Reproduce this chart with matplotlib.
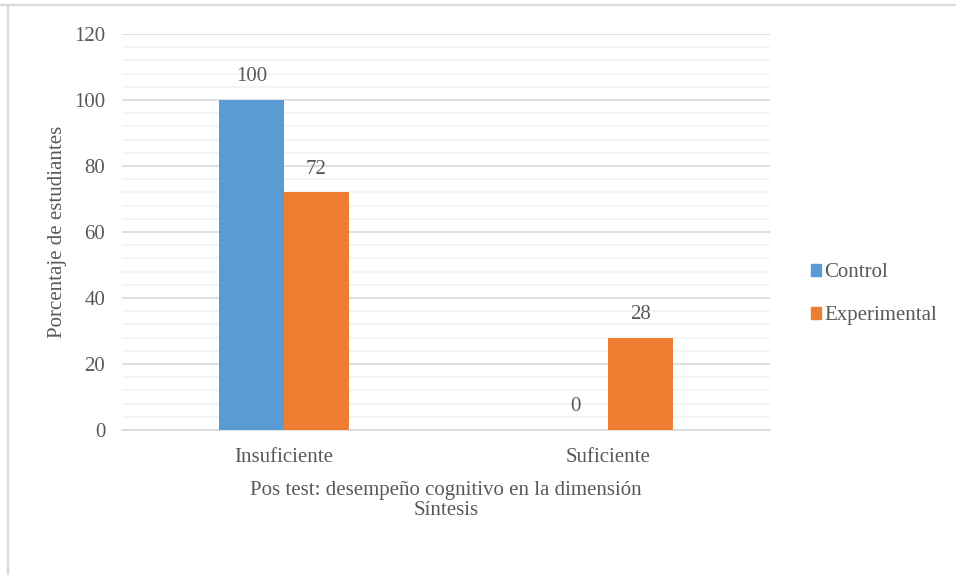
import matplotlib.pyplot as plt
import numpy as np
from matplotlib.patches import Rectangle
from matplotlib.lines import Line2D

# data
categories = ["Insuficiente", "Suficiente"]
series_names = ["Control", "Experimental"]
control = [100, 0]
experimental = [72, 28]
y_ticks = [0, 20, 40, 60, 80, 100, 120]

BLUE = "#5B9BD5"
ORANGE = "#ED7D31"
TEXT = "#595959"
FS = 15

plt.rcParams["font.family"] = ["Liberation Serif", "DejaVu Serif"]

fig = plt.figure(figsize=(9.56, 5.75), dpi=100, facecolor="white")

# outer frame lines (top and left)
fig.add_artist(Line2D([0, 1], [1 - 4.5 / 575] * 2, color="#D9D9D9", lw=1.6, transform=fig.transFigure))
fig.add_artist(Line2D([7.5 / 956] * 2, [0, 1 - 4.5 / 575], color="#D9D9D9", lw=1.6, transform=fig.transFigure))

ax = fig.add_axes([122 / 956, 1 - 430 / 575, (770 - 122) / 956, (430 - 34) / 575])

x = np.arange(len(categories))
w = 0.2
b1 = ax.bar(x - w / 2, control, w, color=BLUE, label=series_names[0], zorder=3)
b2 = ax.bar(x + w / 2, experimental, w, color=ORANGE, label=series_names[1], zorder=3)

for bars, vals in [(b1, control), (b2, experimental)]:
    for r, v in zip(bars, vals):
        ax.text(r.get_x() + r.get_width() / 2, v + 4.2, f"{v}", ha="center", va="bottom",
                fontsize=FS, color=TEXT)

ax.set_xlim(-0.5, 1.5)
ax.set_ylim(0, 120)
ax.set_yticks(y_ticks)
ax.set_yticks(np.arange(0, 121, 4), minor=True)
ax.grid(axis="y", which="minor", color="#F2F2F2", lw=1.2, zorder=0)
ax.grid(axis="y", which="major", color="#D9D9D9", lw=1.2, zorder=1)
ax.set_xticks(x)
ax.set_xticklabels(categories)
ax.tick_params(axis="both", which="both", length=0, labelsize=FS, labelcolor=TEXT)
ax.tick_params(axis="x", pad=13)
ax.tick_params(axis="y", pad=12)
for s in ["top", "right", "left"]:
    ax.spines[s].set_visible(False)
ax.spines["bottom"].set_color("#D9D9D9")
ax.spines["bottom"].set_linewidth(1.2)

ax.set_ylabel("Porcentaje de estudiantes", fontsize=FS, color=TEXT, labelpad=5)
ax.set_xlabel("Pos test: desempeño cognitivo en la dimensión\nSíntesis", fontsize=FS,
              color=TEXT, labelpad=10, linespacing=1.1)

handles = [Rectangle((0, 0), 1, 1, color=BLUE), Rectangle((0, 0), 1, 1, color=ORANGE)]
fig.legend(handles, series_names, loc="center left", bbox_to_anchor=(792 / 956, 1 - 294 / 575),
           frameon=False, fontsize=FS, labelcolor=TEXT, handlelength=0.5, handleheight=0.5,
           handletextpad=0.15, labelspacing=1.15)

fig.savefig("out.png", dpi=100, facecolor="white")
